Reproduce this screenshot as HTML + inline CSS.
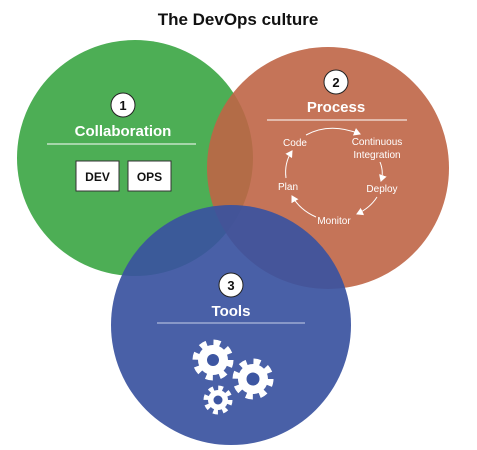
<!DOCTYPE html>
<html><head><meta charset="utf-8"><style>
html,body{margin:0;padding:0;background:#fff;width:477px;height:450px;overflow:hidden}
svg text{font-family:"Liberation Sans",sans-serif}
</style></head><body>
<svg width="477" height="450" viewBox="0 0 477 450" xmlns="http://www.w3.org/2000/svg">
<defs>
<marker id="ar" markerWidth="8" markerHeight="8" refX="6" refY="4" orient="auto" markerUnits="userSpaceOnUse">
<path d="M0,0 L7,4 L0,8 z" fill="#fff"/></marker>
</defs>
<text x="238" y="25" font-size="17" font-weight="bold" text-anchor="middle" fill="#111">The DevOps culture</text>
<circle cx="135" cy="158" r="118" fill="#4dae55"/>
<circle cx="328" cy="168" r="121" fill="#bf6546" opacity="0.9"/>
<circle cx="231" cy="325" r="120" fill="#3a53a0" opacity="0.92"/>

<!-- Collaboration -->
<circle cx="123" cy="105" r="12" fill="#fff" stroke="#222" stroke-width="1"/>
<text x="123" y="110" font-size="13" font-weight="bold" text-anchor="middle" fill="#111">1</text>
<text x="123" y="136" font-size="15" font-weight="bold" text-anchor="middle" fill="#fff">Collaboration</text>
<line x1="47" y1="144" x2="196" y2="144" stroke="#fff" stroke-width="1"/>
<rect x="76" y="161" width="43" height="30" fill="#fff" stroke="#333" stroke-width="1"/>
<text x="97.5" y="181" font-size="12" font-weight="bold" text-anchor="middle" fill="#111">DEV</text>
<rect x="128" y="161" width="43" height="30" fill="#fff" stroke="#333" stroke-width="1"/>
<text x="149.5" y="181" font-size="12" font-weight="bold" text-anchor="middle" fill="#111">OPS</text>

<!-- Process -->
<circle cx="336" cy="82" r="12" fill="#fff" stroke="#222" stroke-width="1"/>
<text x="336" y="87" font-size="13" font-weight="bold" text-anchor="middle" fill="#111">2</text>
<text x="336" y="112" font-size="15" font-weight="bold" text-anchor="middle" fill="#fff">Process</text>
<line x1="267" y1="120" x2="407" y2="120" stroke="#fff" stroke-width="1"/>
<g font-size="10" fill="#fff" text-anchor="middle">
<text x="295" y="146">Code</text>
<text x="377" y="145">Continuous</text>
<text x="377" y="158">Integration</text>
<text x="382" y="192">Deploy</text>
<text x="334" y="224">Monitor</text>
<text x="288" y="190">Plan</text>
</g>
<g fill="none" stroke="#fff" stroke-width="1">
<path d="M306,135 Q330,122 360,134" marker-end="url(#ar)"/>
<path d="M380,162 Q384,172 381,181" marker-end="url(#ar)"/>
<path d="M377,197 Q370,208 357,214" marker-end="url(#ar)"/>
<path d="M316,217 Q300,210 292,196" marker-end="url(#ar)"/>
<path d="M286,178 Q284,163 292,151" marker-end="url(#ar)"/>
</g>

<!-- Tools -->
<circle cx="231" cy="285" r="12" fill="#fff" stroke="#222" stroke-width="1"/>
<text x="231" y="290" font-size="13" font-weight="bold" text-anchor="middle" fill="#111">3</text>
<text x="231" y="316" font-size="15" font-weight="bold" text-anchor="middle" fill="#fff">Tools</text>
<line x1="157" y1="323" x2="305" y2="323" stroke="#c8d0ea" stroke-width="1"/>
<g fill="#fff">
<circle cx="213" cy="360" r="15"/>
<circle cx="213" cy="360" r="17.5" fill="none" stroke="#fff" stroke-width="6" stroke-dasharray="6.9 6.9"/>
<circle cx="213" cy="360" r="6" fill="#3d56a2"/>
<circle cx="253" cy="379" r="15"/>
<circle cx="253" cy="379" r="17.5" fill="none" stroke="#fff" stroke-width="6" stroke-dasharray="6.9 6.9"/>
<circle cx="253" cy="379" r="6.5" fill="#3d56a2"/>
<circle cx="218" cy="400" r="10"/>
<circle cx="218" cy="400" r="12" fill="none" stroke="#fff" stroke-width="5" stroke-dasharray="4.7 4.7"/>
<circle cx="218" cy="400" r="4.5" fill="#3d56a2"/>
</g>
</svg>
</body></html>
